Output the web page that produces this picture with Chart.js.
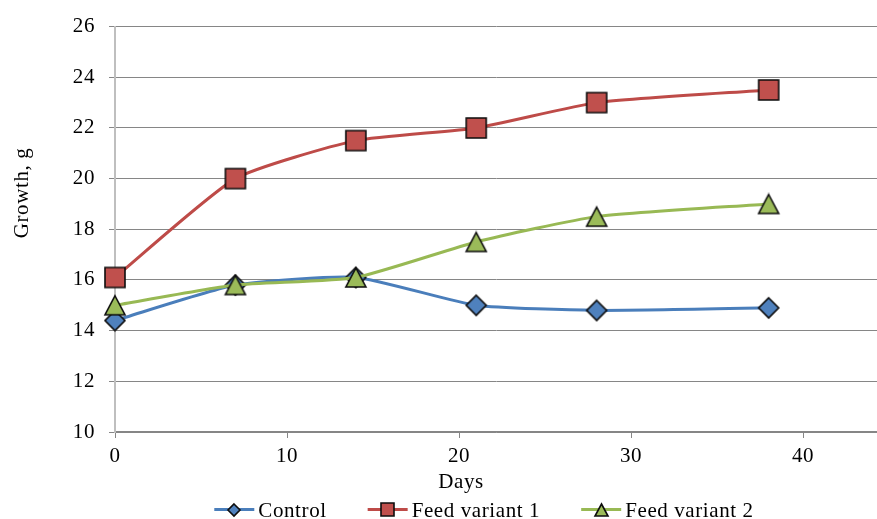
<!DOCTYPE html>
<html>
<head>
<meta charset="utf-8">
<script src="https://cdn.jsdelivr.net/npm/chart.js@4/dist/chart.umd.min.js"></script>
<style>
  html, body { margin: 0; padding: 0; background: #ffffff; }
  #c { display: block; }
</style>
</head>
<body>
<canvas id="c" width="877" height="519"></canvas>
<script>
// ---- data ----
const days      = [0, 7, 14, 21, 28, 38];
const control   = [14.4, 15.8, 16.1, 15.0, 14.8, 14.9];
const feed1     = [16.1, 20.0, 21.5, 22.0, 23.0, 23.5];
const feed2     = [15.0, 15.8, 16.1, 17.5, 18.5, 19.0];
const seriesNames = ['Control', 'Feed variant 1', 'Feed variant 2'];
const xTitle = 'Days';
const yTitle = 'Growth, g';

// ---- style ----
const FONT = '"Liberation Serif", "Times New Roman", serif';
const FSIZE = 21;
const LS = '0.6px';
const colors = ['#4A7EBB', '#BE4B48', '#98B954'];
const fills  = ['#4F81BD', '#C0504D', '#9BBB59'];

function marker(shape, w, h, fill) {
  const pad = 2;
  const c = document.createElement('canvas');
  c.width = Math.ceil(w + pad * 2);
  c.height = Math.ceil(h + pad * 2);
  const g = c.getContext('2d');
  const cx = c.width / 2, cy = c.height / 2;
  g.beginPath();
  if (shape === 'diamond') {
    g.moveTo(cx, cy - h / 2); g.lineTo(cx + w / 2, cy);
    g.lineTo(cx, cy + h / 2); g.lineTo(cx - w / 2, cy); g.closePath();
  } else if (shape === 'square') {
    g.rect(cx - w / 2, cy - h / 2, w, h);
  } else {
    g.moveTo(cx, cy - h / 2); g.lineTo(cx + w / 2, cy + h / 2);
    g.lineTo(cx - w / 2, cy + h / 2); g.closePath();
  }
  g.fillStyle = fill; g.fill();
  g.lineWidth = 1.6; g.strokeStyle = '#0d0d0d'; g.lineJoin = 'miter'; g.stroke();
  return c;
}

const plotMarkers = [
  marker('diamond', 20, 20, fills[0]),
  marker('square', 20, 20, fills[1]),
  marker('triangle', 20, 19, fills[2])
];
const legendMarkers = [
  marker('diamond', 12, 12, fills[0]),
  marker('square', 13, 13, fills[1]),
  marker('triangle', 13, 12, fills[2])
];

function pts(ys) { return days.map((d, i) => ({ x: d, y: ys[i] })); }
const seriesValues = [control, feed1, feed2];
const drawOrder = [2, 1, 0];

const datasets = seriesValues.map((vals, i) => ({
  label: seriesNames[i],
  data: pts(vals),
  borderColor: colors[i],
  backgroundColor: fills[i],
  borderWidth: 3,
  tension: 0.18,
  pointStyle: plotMarkers[i],
  pointRadius: 10,
  pointHoverRadius: 10,
  order: drawOrder[i],
  clip: 15
}));

const spacingPlugin = {
  id: 'spacing',
  beforeLayout(chart) { chart.ctx.letterSpacing = LS; },
  beforeDraw(chart) { chart.ctx.letterSpacing = LS; }
};

// axis titles, placed where the reference puts them
const axisTitlePlugin = {
  id: 'axisTitles',
  afterDraw(chart) {
    const ctx = chart.ctx;
    ctx.save();
    ctx.letterSpacing = LS;
    ctx.font = FSIZE + 'px ' + FONT;
    ctx.fillStyle = '#000';
    ctx.textAlign = 'center';
    ctx.textBaseline = 'middle';
    ctx.fillText(xTitle, 461, 482);
    ctx.translate(22, 193);
    ctx.rotate(-Math.PI / 2);
    ctx.fillText(yTitle, 0, 0);
    ctx.restore();
  }
};

const legendPlugin = {
  id: 'refLegend',
  afterDraw(chart) {
    const ctx = chart.ctx;
    ctx.save();
    ctx.letterSpacing = LS;
    ctx.font = FSIZE + 'px ' + FONT;
    const items = chart.data.datasets.map((ds, i) => ({
      label: ds.label, color: ds.borderColor, mk: legendMarkers[i],
      w: ctx.measureText(ds.label).width
    }));
    const lineW = 40, textGap = 4, itemGap = 41;
    const total = items.reduce((s, it) => s + lineW + textGap + it.w, 0) + itemGap * (items.length - 1);
    let x = 484 - total / 2;
    const ly = 509.5, by = 517;
    items.forEach(it => {
      ctx.strokeStyle = it.color; ctx.lineWidth = 3;
      ctx.beginPath(); ctx.moveTo(x, ly); ctx.lineTo(x + lineW, ly); ctx.stroke();
      ctx.drawImage(it.mk, Math.round(x + lineW / 2 - it.mk.width / 2), Math.round(ly - it.mk.height / 2));
      ctx.fillStyle = '#000'; ctx.textAlign = 'left'; ctx.textBaseline = 'alphabetic';
      ctx.fillText(it.label, x + lineW + textGap, by);
      x += lineW + textGap + it.w + itemGap;
    });
    ctx.restore();
  }
};

new Chart(document.getElementById('c'), {
  type: 'line',
  data: { datasets },
  options: {
    responsive: false,
    devicePixelRatio: 1,
    animation: false,
    layout: { autoPadding: false, padding: { top: 20, left: 0, right: 0, bottom: 0 } },
    plugins: {
      legend: { display: false },
      tooltip: { enabled: false }
    },
    scales: {
      x: {
        type: 'linear',
        min: 0,
        max: 44.3,
        ticks: {
          stepSize: 10,
          includeBounds: false,
          padding: 6,
          color: '#000',
          font: { family: FONT, size: FSIZE }
        },
        grid: {
          drawOnChartArea: false,
          drawTicks: true,
          tickLength: 6,
          color: '#868686'
        },
        border: { display: true, color: '#868686', width: 1.5 },
        title: { display: false, text: xTitle },
        afterFit(scale) { scale.height = 87; scale.paddingRight = 0; }
      },
      y: {
        min: 10,
        max: 26,
        ticks: {
          stepSize: 2,
          padding: 14,
          color: '#000',
          font: { family: FONT, size: FSIZE }
        },
        grid: {
          color: '#868686',
          lineWidth: 1,
          tickLength: 6
        },
        border: { display: true, color: '#BFBFBF', width: 2 },
        title: { display: false, text: yTitle },
        afterFit(scale) { scale.width = 115; }
      }
    }
  },
  plugins: [spacingPlugin, axisTitlePlugin, legendPlugin]
});
</script>
</body>
</html>
